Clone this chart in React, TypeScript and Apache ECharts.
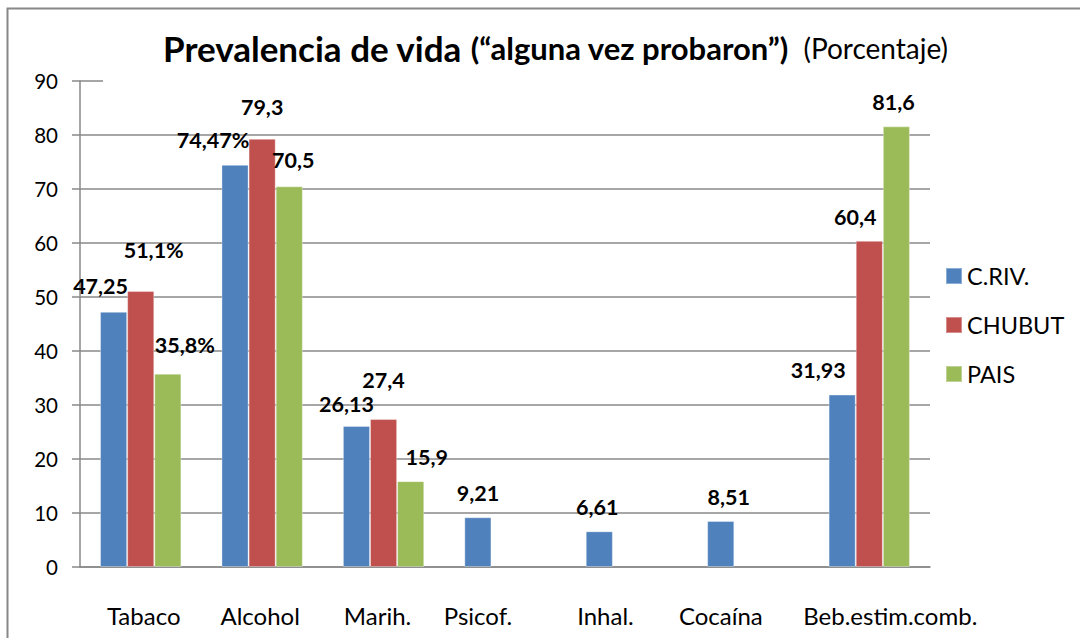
import React, { useEffect, useRef } from "react";
import * as echarts from "echarts";

const categories = ["Tabaco", "Alcohol", "Marih.", "Psicof.", "Inhal.", "Cocaína", "Beb.estim.comb."];
const seriesNames = ["C.RIV.", "CHUBUT", "PAIS"];
const crivValues = [47.25, 74.47, 26.13, 9.21, 6.61, 8.51, 31.93];
const chubutValues = [51.1, 79.3, 27.4, null, null, null, 60.4];
const paisValues = [35.8, 70.5, 15.9, null, null, null, 81.6];
const crivLabels = ["47,25", "74,47%", "26,13", "9,21", "6,61", "8,51", "31,93"];
const chubutLabels = ["51,1%", "79,3", "27,4", "", "", "", "60,4"];
const paisLabels = ["35,8%", "70,5", "15,9", "", "", "", "81,6"];
const yTicks = [0, 10, 20, 30, 40, 50, 60, 70, 80, 90];

// label offsets (style only)
const crivOffsets = [[-13, -10], [-22, -9], [-10, -6], [0, -8], [-2, -8], [8, -8], [-24, -9]];
const chubutOffsets = [[13, -25], [0, -16], [0, -23], [0, 0], [0, 0], [0, 0], [-14, -8]];
const paisOffsets = [[17, -13], [4, -10], [16, -8], [0, 0], [0, 0], [0, 0], [-3, -8]];
// horizontal shift of each category label (style only)
const catLabelShift = [3, -2, -6, -27, -21, -27, 21];

const colors = ["#4F81BD", "#C0504D", "#9BBB59"];
const FONT = "Lato, 'Open Sans', sans-serif";

function buildSeries(name: string, values: (number | null)[], labels: string[], offsets: number[][], color: string) {
  return {
    name,
    type: "bar",
    barGap: "0%",
    barCategoryGap: "33%",
    itemStyle: { color, borderColor: "rgba(255,255,255,0.35)", borderWidth: 1 },
    data: values.map((v, i) => ({
      value: v,
      label: {
        show: v !== null,
        position: "top",
        offset: offsets[i],
        formatter: () => labels[i],
        fontFamily: FONT,
        fontWeight: "bold",
        fontSize: 21.5,
        color: "#000",
      },
    })),
  };
}

export default function App() {
  const ref = useRef<HTMLDivElement>(null);
  useEffect(() => {
    if (!ref.current) return;
    const chart = echarts.init(ref.current, undefined, { renderer: "svg" });
    const rich: Record<string, any> = {};
    catLabelShift.forEach((s, i) => {
      rich["s" + i] = {
        fontFamily: FONT,
        fontSize: 24,
        color: "#000",
        padding: s >= 0 ? [0, 0, 0, 2 * s] : [0, -2 * s, 0, 0],
      };
    });
    chart.setOption({
      animation: false,
      backgroundColor: "#fff",
      textStyle: { fontFamily: FONT },
      title: {
        text: "{a|Prevalencia de vida }{b|(“alguna vez probaron”)}{c|  (Porcentaje)}",
        left: 158,
        top: 25,
        textStyle: {
          rich: {
            a: { fontFamily: FONT, fontWeight: "bold", fontSize: 35, color: "#000" },
            b: { fontFamily: FONT, fontWeight: "bold", fontSize: 31, color: "#000" },
            c: { fontFamily: FONT, fontWeight: "normal", fontSize: 28, color: "#000" },
          },
        },
      },
      legend: {
        orient: "vertical",
        left: 945,
        top: 264,
        padding: 0,
        itemWidth: 16,
        itemHeight: 16,
        itemGap: 25,
        icon: "rect",
        data: seriesNames,
        textStyle: { fontFamily: FONT, fontSize: 23.5, color: "#000", padding: [0, 0, 0, 0] },
      },
      grid: { left: 80, right: 150, top: 81, bottom: 71, containLabel: false },
      xAxis: {
        type: "category",
        data: categories,
        axisLine: { show: true, lineStyle: { color: "#898989", width: 1.5 } },
        axisTick: { show: false },
        axisLabel: {
          color: "#000",
          fontSize: 24,
          fontFamily: FONT,
          margin: 36,
          interval: 0,
          formatter: (value: string, index: number) => `{s${index}|${value}}`,
          rich,
        },
      },
      yAxis: {
        type: "value",
        min: yTicks[0],
        max: yTicks[yTicks.length - 1],
        interval: 10,
        axisLine: { show: true, lineStyle: { color: "#898989", width: 1.5 } },
        axisTick: { show: true, length: 8, lineStyle: { color: "#898989", width: 1.5 } },
        axisLabel: { color: "#000", fontSize: 20.5, fontFamily: FONT, margin: 22 },
        splitLine: { show: true, lineStyle: { color: "#898989", width: 1.5 } },
      },
      graphic: [
        { type: "rect", shape: { x: 103, y: 77, width: 840, height: 7 }, style: { fill: "#fff" }, z: 50 },
        { type: "rect", shape: { x: 7.5, y: 8.5, width: 1200, height: 800 }, style: { fill: "none", stroke: "#888", lineWidth: 2 }, z: 100, silent: true },
      ],
      series: [
        buildSeries(seriesNames[0], crivValues, crivLabels, crivOffsets, colors[0]),
        buildSeries(seriesNames[1], chubutValues, chubutLabels, chubutOffsets, colors[1]),
        buildSeries(seriesNames[2], paisValues, paisLabels, paisOffsets, colors[2]),
      ],
    });
    return () => chart.dispose();
  }, []);
  return <div ref={ref} style={{ width: 1080, height: 638, position: "absolute", left: 0, top: 0 }} />;
}
